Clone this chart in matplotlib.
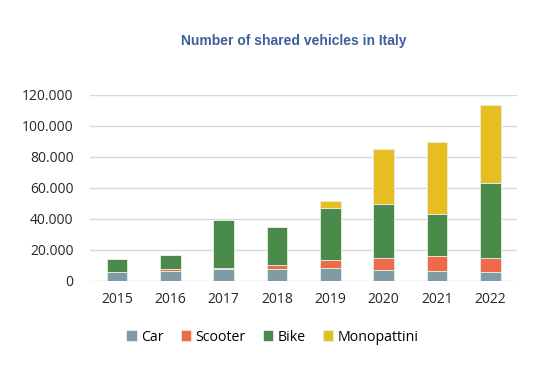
import matplotlib.pyplot as plt
import numpy as np
from matplotlib.ticker import FuncFormatter

# values
years = ['2015', '2016', '2017', '2018', '2019', '2020', '2021', '2022']
car = [5400, 6500, 7400, 7500, 8000, 7100, 6300, 5800]
scooter = [0, 1000, 900, 2600, 5400, 7500, 9400, 8800]
bike = [8400, 8900, 31100, 24300, 33300, 34700, 27300, 48600]
monopattini = [0, 0, 0, 0, 4700, 35500, 46300, 50200]

series = [('Car', car, '#7f9ca6'),
          ('Scooter', scooter, '#ef6a48'),
          ('Bike', bike, '#4a8a4a'),
          ('Monopattini', monopattini, '#e6be22')]

plt.rcParams['font.family'] = ['Open Sans', 'DejaVu Sans']

fig = plt.figure(figsize=(5.34, 3.92), dpi=100)
ax = fig.add_axes([0.169, 0.284, 0.799, 0.474])

x = np.arange(len(years))
bottom = np.zeros(len(years))
for name, vals, col in series:
    ax.bar(x, vals, width=0.39, bottom=bottom, color=col, label=name,
           edgecolor='#e8efe8', linewidth=0.6, zorder=3)
    bottom += np.array(vals)

ax.set_xlim(-0.5, len(years) - 0.5)
ax.set_ylim(0, 120000)
ax.set_yticks(range(0, 120001, 20000))
ax.yaxis.set_major_formatter(FuncFormatter(lambda v, p: f'{int(v):,}'.replace(',', '.')))
ax.set_xticks(x)
ax.set_xticklabels(years)
ax.tick_params(length=0, labelsize=10, colors='#262626')
ax.tick_params(axis='x', pad=8)
ax.tick_params(axis='y', pad=12)
ax.grid(axis='y', color='#d9d9d9', linewidth=1, zorder=0)
for s in ax.spines.values():
    s.set_visible(False)

fig.text(0.551, 0.895, 'Number of shared vehicles in Italy', ha='center', va='center',
         fontsize=10, fontweight='bold', color='#3f5f9a', family='Liberation Sans')

fig.legend(loc='center', bbox_to_anchor=(0.51, 0.14), ncol=4, frameon=False,
           fontsize=10.2, handlelength=0.75, handleheight=0.75, handletextpad=0.3,
           columnspacing=1.2)

fig.savefig('out.png', dpi=100, facecolor='white')
